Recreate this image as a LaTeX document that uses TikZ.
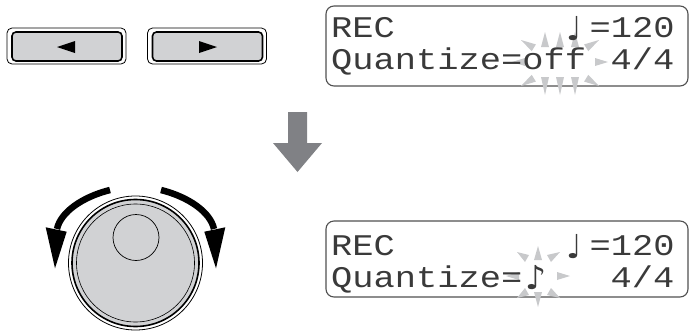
\documentclass[tikz,border=0pt]{standalone}
\usepackage{fontspec}
\newfontfamily\lcdfont[FakeStretch=1.18]{Liberation Mono}
\newfontfamily\notefont{DejaVu Sans}
\definecolor{btngray}{HTML}{D1D2D4}
\definecolor{arrowgray}{HTML}{808185}
\definecolor{raygray}{HTML}{C8C9CB}
\definecolor{lcdline}{HTML}{505050}
\definecolor{lcdtext}{HTML}{3A3A3A}
\tikzset{
  btnouter/.style={draw=black, line width=0.8pt, rounded corners=5pt, minimum width=119pt, minimum height=36pt, inner sep=0pt},
  btninner/.style={draw=black, fill=btngray, line width=1.6pt, rounded corners=4pt, minimum width=110pt, minimum height=29pt, inner sep=0pt},
  lcdbox/.style={draw=lcdline, line width=1.1pt, rounded corners=8pt, minimum width=362pt, inner sep=0pt},
  lcdtxt/.style={anchor=base west, inner sep=0pt, text=lcdtext, font=\lcdfont\fontsize{30}{30}\selectfont},
  notetxt/.style={anchor=base west, inner sep=0pt, text=lcdtext, font=\notefont\fontsize{33}{33}\selectfont},
  ray/.style={fill=raygray},
  rotarrow/.style={line width=6.5pt, draw=black},
}
\begin{document}
\begin{tikzpicture}[x=1pt,y=-1pt]
\useasboundingbox (0,0) rectangle (691,330);
% buttons
\node[btnouter] (lbo) at (66.5,46) {};
\node[btninner] (lbi) at (67,46.5) {};
\fill (57,47) -- (75,41) -- (75,53) -- cycle;
\node[btnouter] (rbo) at (207,46) {};
\node[btninner] (rbi) at (207.5,46.5) {};
\fill (217,47) -- (199,41) -- (199,53) -- cycle;
% gray arrow
\fill[arrowgray] (288,112) -- (307,112) -- (307,143) -- (322,143) -- (297.5,172) -- (273,143) -- (288,143) -- cycle;
% dial
\node[circle, draw=black, line width=0.8pt, minimum size=134pt, inner sep=0pt] (dialout) at (135.5,263) {};
\node[circle, draw=black, fill=btngray, line width=1.6pt, minimum size=127pt, inner sep=0pt] (dialring) at (135.5,263) {};
\node[circle, draw=black, line width=0.6pt, minimum size=118pt, inner sep=0pt] (dialin) at (135.5,263) {};
\node[circle, draw=black, line width=0.7pt, minimum size=46pt, inner sep=0pt] (dialdot) at (136,237.5) {};
% rotation arrows
\draw[rotarrow] (110,190) .. controls (82,197) and (60.5,212.4) .. (57,229);
\fill (45.7,227.3) -- (66.7,231.7) -- (55,268.3) -- cycle;
\draw[rotarrow] (161,190) .. controls (189,197) and (210.5,212.4) .. (214,229);
\fill (225.3,227.3) -- (204.3,231.7) -- (216,268.3) -- cycle;
% upper LCD
\node[lcdbox, minimum height=80pt] (lcdA) at (507,46) {};
\foreach \x in {545,560,575} {
  \fill[ray] (\x,32) -- (\x-4,47) -- (\x+4,47) -- cycle;
  \fill[ray] (\x,95) -- (\x-4,77) -- (\x+4,77) -- cycle;
}
\fill[ray] (521,40) -- (535.9,44.4) -- (531.7,51.2) -- cycle;
\fill[ray] (599,40) -- (584.1,44.4) -- (588.3,51.2) -- cycle;
\fill[ray] (521,86) -- (535.9,81.6) -- (531.7,74.8) -- cycle;
\fill[ray] (599,86) -- (584.1,81.6) -- (588.3,74.8) -- cycle;
\fill[ray] (608,62) -- (595,58) -- (595,66) -- cycle;
\fill[ray] (512,62) -- (525,58) -- (525,66) -- cycle;
\node[lcdtxt] (a1) at (331,37) {REC};
\node[notetxt] (a2) at (566,40) {♩};
\node[lcdtxt] (a3) at (589.5,37) {=120};
\node[lcdtxt] (a4) at (331,69) {Quantize=off};
\node[lcdtxt] (a5) at (610.5,69) {4/4};
% lower LCD
\node[lcdbox, minimum height=76pt] (lcdB) at (507,259) {};
\fill[ray] (538,246) -- (534,260) -- (542,260) -- cycle;
\fill[ray] (538,307) -- (534,292) -- (542,292) -- cycle;
\fill[ray] (517,252) -- (529,255) -- (525,262) -- cycle;
\fill[ray] (560,252) -- (547,255) -- (551,262) -- cycle;
\fill[ray] (517,298) -- (529,295) -- (525,288) -- cycle;
\fill[ray] (560,298) -- (547,295) -- (551,288) -- cycle;
\fill[ray] (570,276) -- (557,272) -- (557,280) -- cycle;
\fill[ray] (506,276) -- (519,272) -- (519,280) -- cycle;
\node[lcdtxt] (b1) at (331,255) {REC};
\node[notetxt] (b2) at (566,258) {♩};
\node[lcdtxt] (b3) at (589.5,255) {=120};
\node[lcdtxt] (b4) at (331,287) {Quantize=};
\node[notetxt] (b5) at (525,289) {♪};
\node[lcdtxt] (b6) at (610.5,287) {4/4};
\end{tikzpicture}
\end{document}
